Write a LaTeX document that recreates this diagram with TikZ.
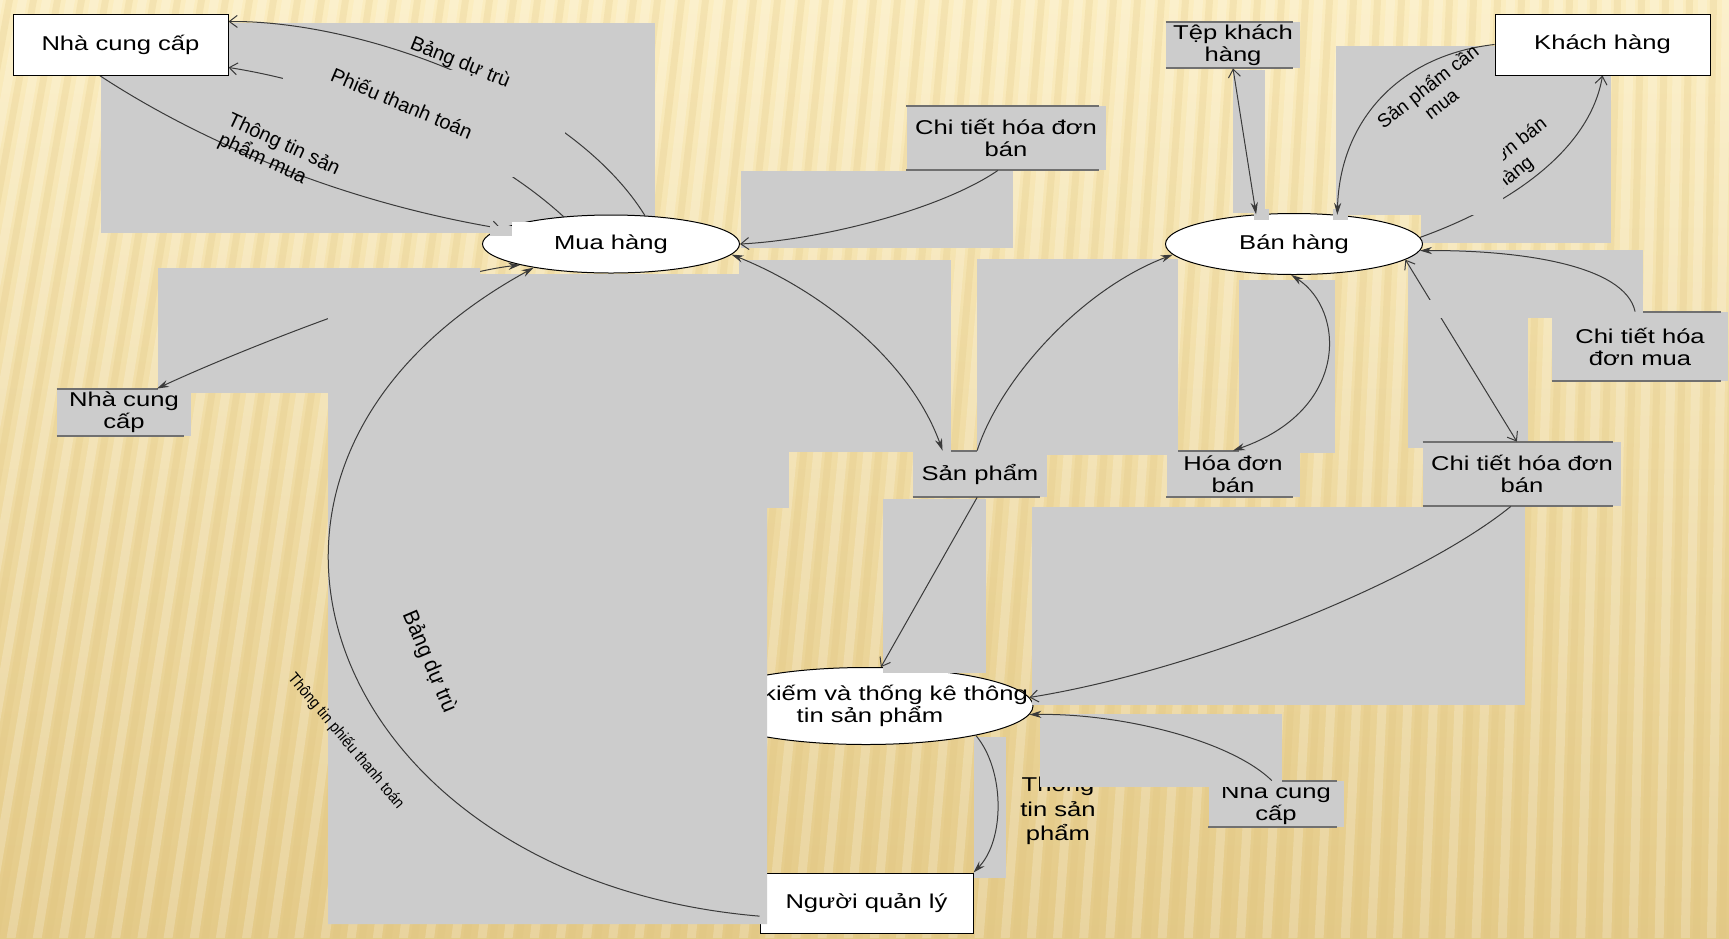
\documentclass[tikz,border=0pt]{standalone}
\usepackage{fontspec}
\setmainfont{Liberation Sans}
\newfontfamily\widefont{Liberation Sans}[FakeStretch=1.28]
\usetikzlibrary{shapes.geometric,arrows.meta}

\definecolor{bgtop}{HTML}{FBEDC0}
\definecolor{bgbot}{HTML}{E4CA88}
\definecolor{bgstreak}{HTML}{DEC27C}
\definecolor{boxgray}{HTML}{CCCCCC}
\definecolor{flowgray}{HTML}{3A3A3A}
\definecolor{rulegray}{HTML}{707070}

\newcommand{\dfdfont}{\widefont\fontsize{10}{11}\selectfont}
\newcommand{\tagfont}{\fontsize{10}{11}\selectfont}

\pgfdeclarelayer{paper}
\pgfdeclarelayer{lower}
\pgfdeclarelayer{middle}
\pgfdeclarelayer{upper}
\pgfdeclarelayer{top2}
\pgfdeclarelayer{top3}
\pgfsetlayers{paper,lower,middle,upper,main,top2,top3}

\tikzset{
  extentity/.style={rectangle, draw=black, line width=0.5pt, fill=white,
    inner sep=0pt, minimum width=107.5pt, minimum height=30.5pt, font=\dfdfont},
  procnode/.style={ellipse, draw=black, line width=0.5pt, fill=white,
    inner sep=0pt, font=\dfdfont},
  storenode/.style={rectangle, fill=boxgray, inner sep=0pt, align=center,
    minimum width=67pt, minimum height=23pt, font=\dfdfont},
  storerule/.style={draw=rulegray, line width=1pt},
  grayrect/.style={fill=boxgray},
  flowline/.style={draw=flowgray, line width=0.5pt},
  flowin/.style={flowline, -{Stealth[length=6pt,width=3.6pt]}},
  flowopen/.style={flowline, -{Straight Barb[length=4pt,width=6pt]}},
  flowboth/.style={flowline, {Stealth[length=6pt,width=3.6pt]}-{Stealth[length=6pt,width=3.6pt]}},
  flowbothopen/.style={flowline, {Straight Barb[length=4pt,width=6pt]}-{Straight Barb[length=4pt,width=6pt]}},
  flowtag/.style={font=\tagfont, inner sep=0pt, align=center},
}

\begin{document}
\begin{tikzpicture}[x=0.5pt, y=-0.5pt]
\useasboundingbox (0,0) rectangle (1729,938);

\begin{pgfonlayer}{paper}
% background with streaks
\fill[top color=bgtop, bottom color=bgbot] (0,0) rectangle (1729,938);
\foreach \sx [evaluate=\sx as \sl using -170+0.09*\sx] in {-150,-126,...,1800} {
  \fill[white, opacity=0.20] (\sx,0) -- ++(9,0) -- ++(\sl,938) -- ++(-9,0) -- cycle;
  \fill[bgstreak, opacity=0.22] (\sx+12,0) -- ++(7,0) -- ++(\sl,938) -- ++(-7,0) -- cycle;
}
\fill[grayrect] (101,23) rectangle (655,233);
% data stores
\node[storenode, minimum height=23.5pt] (ncc2) at (124,412.5) {Nhà cung\\cấp};
\node[storenode] (sanpham) at (980,474) {Sản phẩm};
\node[storenode, minimum width=66.5pt] (hdb) at (1233,474) {Hóa đơn\\bán};
\node[storenode, minimum width=88pt, minimum height=34.5pt] (cthdm) at (1640,346.5) {Chi tiết hóa\\đơn mua};
\node[storenode, minimum width=67.5pt] (ncc3) at (1276,804) {Nhà cung\\cấp};
\node[storenode] (tepkh) at (1233,45) {Tệp khách\\hàng};
\node[storenode, minimum width=99.5pt, minimum height=32pt] (cthdb1) at (1006,138) {Chi tiết hóa đơn\\bán};
\foreach \s in {ncc2,sanpham,hdb,cthdm,ncc3,tepkh,cthdb1} {
  \draw[storerule] (\s.north west) -- ([xshift=-3.5pt]\s.north east);
  \draw[storerule] (\s.south west) -- ([xshift=-3.5pt]\s.south east);
}
\node[procnode, minimum width=167pt, minimum height=38.5pt,
  label={[font=\dfdfont, align=center, inner sep=0pt, xshift=2pt]center:{Tìm kiếm và thống kê thông\\tin sản phẩm}}] (tk) at (866,706) {};
\node[extentity, minimum width=106.5pt, minimum height=30pt] (nql) at (866.5,903) {Người quản lý};
\node[font=\widefont\fontsize{10}{12.2}\selectfont, align=center, inner sep=0pt] (infotag) at (1058,811) {Thông\\tin sản\\phẩm};
\end{pgfonlayer}

\begin{pgfonlayer}{upper}
\fill[grayrect] (328,268) -- (480,268) -- (480,274) -- (767,274) -- (767,924) -- (328,924) -- cycle;
\fill[grayrect] (739,260) rectangle (951,452);
\fill[grayrect] (767,452) rectangle (789,508);
\fill[grayrect] (741,171) rectangle (1013,248);
\fill[grayrect] (977,259) rectangle (1178,455);
\fill[grayrect] (1239,280) rectangle (1335,453);
\fill[grayrect] (1233,70) rectangle (1265,213);
\fill[grayrect] (1408,250) rectangle (1643,318);
\fill[grayrect] (1408,250) rectangle (1528,448);
\fill[grayrect] (1421,75) rectangle (1611,243);
\fill[grayrect] (1032,507) rectangle (1525,705);
\fill[grayrect] (883,499) rectangle (986,673);
\fill[grayrect] (1040,714) rectangle (1282,787);
\fill[grayrect] (974,737) rectangle (1006,878);
% processes
\node[procnode, minimum width=128.5pt, minimum height=29pt] (mua) at (611,244) {Mua hàng};
\node[procnode, minimum width=128.5pt, minimum height=30.5pt] (ban) at (1294,244) {Bán hàng};
\fill[white] (512,222) rectangle (565,236);
\fill[grayrect] (490,226) rectangle (512,236);
\fill[grayrect] (1254,209) rectangle (1269,220);
\fill[grayrect] (1333,209) rectangle (1348,220);
\end{pgfonlayer}

% external entities and the right store
\node[extentity] (ncc1) at (120.5,44.5) {Nhà cung cấp};
\node[storenode, minimum width=99pt, minimum height=32pt] (cthdb2) at (1522,474) {Chi tiết hóa đơn\\bán};
\draw[storerule] (cthdb2.north west) -- ([xshift=-4pt]cthdb2.north east);
\draw[storerule] (cthdb2.south west) -- ([xshift=-4pt]cthdb2.south east);
\begin{pgfonlayer}{top3}
\node[extentity] (kh) at (1602.5,44.5) {Khách hàng};
\end{pgfonlayer}

\begin{pgfonlayer}{lower}
\fill[grayrect] (158,268) rectangle (328,393);
\draw[flowopen] (mua.40) .. controls (570,95) and (360,20) .. (ncc1.12);
\draw[flowopen] (mua.150) .. controls (480,140) and (340,85) .. (ncc1.-12);
\end{pgfonlayer}

\begin{pgfonlayer}{middle}
\fill[grayrect] (283,70) rectangle (565,177);
\draw[flowopen] (ncc1.-124) .. controls (190,135) and (330,200) .. (mua.172);
\draw[flowboth] (ncc2.36) .. controls (240,350) and (430,275) .. (mua.-167);
\end{pgfonlayer}

% flows
\draw[flowopen] (cthdb1.-104) .. controls (940,210) and (820,240) .. (mua.east);
\draw[flowboth] (mua.-5) .. controls (820,290) and (910,360) .. (sanpham.148);
\draw[flowin] (sanpham.97) .. controls (1000,380) and (1080,290) .. (ban.-175);
\draw[flowopen] (sanpham.-97) -- (tk.69);
\draw[flowboth] (ban.-95) .. controls (1345,310) and (1350,410) .. (hdb.north);
\draw[flowbothopen] (ban.-8) -- (cthdb2.99);
\draw[flowin] (cthdm.98) .. controls (1625,265) and (1520,250) .. (ban.-3);
\draw[flowopen] (cthdb2.-109) .. controls (1420,580) and (1200,670) .. (tk.3);
\draw[flowin] (ncc3.100) .. controls (1230,740) and (1120,713) .. (tk.-3);
\draw[flowin] (tk.-15) .. controls (1005,770) and (1005,840) .. (nql.north east);
\draw[flowin] (nql.187) .. controls (330,880) and (165,470) .. (mua.-163);
\draw[flowline, {Straight Barb[length=4pt,width=6pt]}-{Stealth[length=6pt,width=3.6pt]}] (tepkh.south) -- (ban.142);
\draw[flowopen] (ban.3) .. controls (1510,205) and (1590,150) .. (kh.south);

% flow labels
\node[flowtag, rotate=-22] (tagbdt) at (460,63) {Bảng dự trù};
\node[flowtag, rotate=-23] (tagptt) at (402,103) {Phiếu thanh toán};
\node[flowtag, rotate=-25, align=left] (tagttsp) at (279,155) {Thông tin sản\\phẩm mua};
\node[flowtag, rotate=-67, xscale=0.93, font=\fontsize{11}{12}\selectfont] (tagbdt2) at (429,662) {Bảng dự trù};
\node[flowtag, rotate=-50, xscale=0.9, font=\fontsize{8}{9}\selectfont] (tagttptt) at (346,741) {Thông tin phiếu thanh toán};
\node[flowtag, rotate=38, font=\fontsize{9.5}{11}\selectfont] (taghdbh) at (1508,165) {Hóa đơn bán\\hàng};

\begin{pgfonlayer}{top2}
\fill[grayrect] (1336,46) rectangle (1503,215);
\fill[grayrect] (1425,300) rectangle (1445,318);
\end{pgfonlayer}

\begin{pgfonlayer}{top3}
\draw[flowin] (kh.west) .. controls (1400,55) and (1340,120) .. (ban.34);
\node[flowtag, rotate=38, font=\fontsize{9.5}{11}\selectfont] (tagspcm) at (1434,94.5) {Sản phẩm cần\\mua};
\end{pgfonlayer}
\end{tikzpicture}
\end{document}
